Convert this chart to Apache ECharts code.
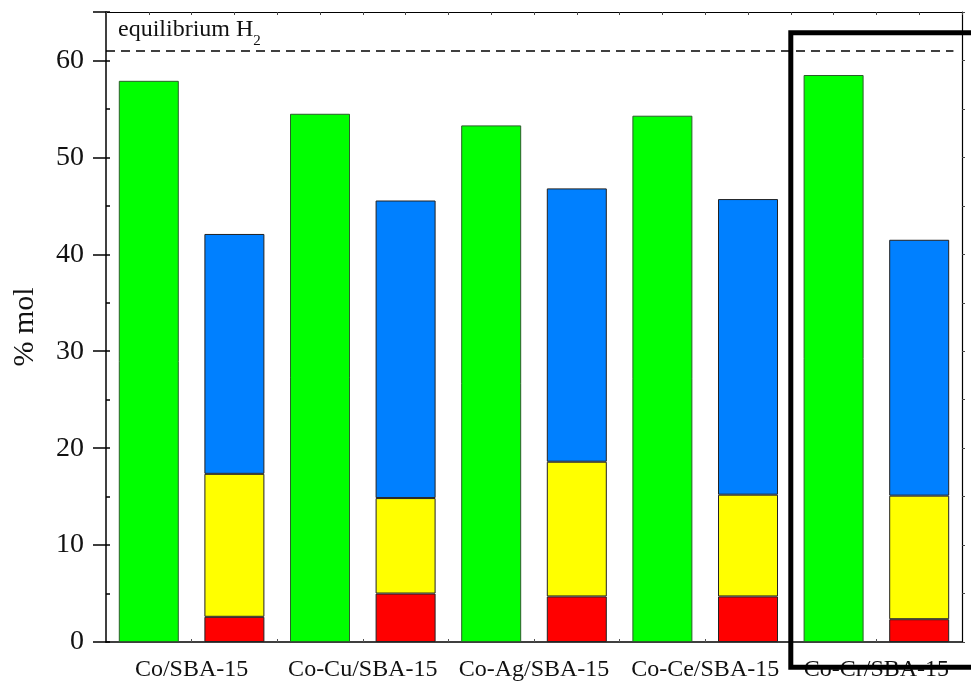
<!DOCTYPE html>
<html><head><meta charset="utf-8">
<script src="https://cdn.jsdelivr.net/npm/echarts@6/dist/echarts.min.js"></script>
<style>html,body{margin:0;padding:0;background:#fff}#c{width:971px;height:687px}</style>
</head><body><div id="c"></div>
<script>
const categories = ['Co/SBA-15','Co-Cu/SBA-15','Co-Ag/SBA-15','Co-Ce/SBA-15','Co-Cr/SBA-15'];
const h2 = [57.9, 54.5, 53.3, 54.3, 58.5];
const red = [2.6, 5.0, 4.7, 4.7, 2.35];
const yellow = [14.75, 9.85, 13.9, 10.5, 12.75];
const blue = [24.75, 30.7, 28.2, 30.5, 26.4];
const equilibriumH2 = 61;
const yTicks = [0, 10, 20, 30, 40, 50, 60];

const FONT = 'Liberation Serif';
const chart = echarts.init(document.getElementById('c'), null, {renderer: 'canvas'});

// 10 bar slots: green bar then stacked bar for each catalyst
const slots = [];
categories.forEach(c => { slots.push(c + ' H2'); slots.push(c + ' other'); });
const onGreen = arr => { const out = []; arr.forEach(v => { out.push(v); out.push('-'); }); return out; };
const onStack = arr => { const out = []; arr.forEach(v => { out.push('-'); out.push(v); }); return out; };

function labelFor(v) {
  const k = (v - 1.5) / 2;
  if (Math.abs(k - Math.round(k)) < 1e-6 && k >= 0 && k < categories.length) return categories[Math.round(k)];
  return '';
}

const barCommon = {type: 'bar', barWidth: 60, stack: 'all', xAxisIndex: 0, yAxisIndex: 0};

chart.setOption({
  animation: false,
  grid: {left: 106, right: 9, top: 12, bottom: 45},
  xAxis: [
    {type: 'category', data: slots, boundaryGap: true, position: 'bottom',
     axisLine: {show: false}, axisTick: {show: false}, axisLabel: {show: false}, splitLine: {show: false}},
    {type: 'value', min: 0.5, max: 10.5, interval: 0.5, position: 'bottom',
     axisLine: {show: true, onZero: false, lineStyle: {color: '#000', width: 1.5}},
     axisTick: {show: true, inside: true, length: 3, lineStyle: {color: '#555'}},
     splitLine: {show: false},
     axisLabel: {formatter: labelFor, color: '#111', fontFamily: FONT, fontSize: 24, margin: 16, showMinLabel: false, showMaxLabel: false}},
    {type: 'value', min: 0.5, max: 10.5, interval: 0.5, position: 'top',
     axisLine: {show: true, onZero: false, lineStyle: {color: '#000', width: 1.2}},
     axisTick: {show: true, inside: true, length: 3, lineStyle: {color: '#444'}},
     splitLine: {show: false}, axisLabel: {show: false}}
  ],
  yAxis: [
    {type: 'value', min: 0, max: 65, interval: 10, position: 'left',
     name: '% mol', nameLocation: 'middle', nameGap: 66, nameRotate: 90,
     nameTextStyle: {fontFamily: FONT, fontSize: 30, color: '#111'},
     axisLine: {show: true, lineStyle: {color: '#000', width: 1.5}},
     axisTick: {show: true, inside: false, length: 13, lineStyle: {color: '#000', width: 1.5}},
     splitLine: {show: false},
     axisLabel: {color: '#111', fontFamily: FONT, fontSize: 28, margin: 22,
                 formatter: v => yTicks.indexOf(v) >= 0 ? String(v) : ''}},
    {type: 'value', min: 0, max: 65, interval: 5, position: 'right',
     axisLine: {show: true, lineStyle: {color: '#000', width: 1.2}},
     axisTick: {show: true, inside: false, length: 3, lineStyle: {color: '#444'}},
     splitLine: {show: false}, axisLabel: {show: false}},
    {type: 'value', min: 0, max: 65, interval: 5, position: 'left',
     axisLine: {show: false},
     axisTick: {show: true, inside: true, length: 4, lineStyle: {color: '#000', width: 1.5}},
     splitLine: {show: false}, axisLabel: {show: false}}
  ],
  series: [
    Object.assign({}, barCommon, {
      name: 'H2',
      itemStyle: {color: '#00ff00', borderColor: '#2a5e2a', borderWidth: 1},
      data: onGreen(h2)
    }),
    Object.assign({}, barCommon, {
      name: 'red',
      itemStyle: {color: '#ff0000', borderColor: '#222', borderWidth: 1},
      data: onStack(red)
    }),
    Object.assign({}, barCommon, {
      name: 'yellow',
      itemStyle: {color: '#ffff00', borderColor: '#222', borderWidth: 1},
      data: onStack(yellow)
    }),
    Object.assign({}, barCommon, {
      name: 'blue',
      itemStyle: {color: '#0080ff', borderColor: '#222', borderWidth: 1},
      data: onStack(blue)
    }),
    {
      name: 'equilibrium H2', type: 'line', xAxisIndex: 1, yAxisIndex: 0,
      symbol: 'none', silent: true,
      lineStyle: {width: 0, opacity: 0},
      data: [[0.5, equilibriumH2], [10.4, equilibriumH2]],
      markLine: {
        silent: true, symbol: 'none',
        lineStyle: {color: '#000', type: [9, 6], width: 1.5, opacity: 1},
        label: {show: true, position: 'insideStartTop', distance: [12, 9],
                formatter: '{a|equilibrium H}{s|2}',
                rich: {a: {fontFamily: FONT, fontSize: 24, color: '#111', verticalAlign: 'bottom'},
                       s: {fontFamily: FONT, fontSize: 15, color: '#111', verticalAlign: 'bottom', padding: [0, 0, -7, 0]}}},
        data: [[{coord: [0.5, equilibriumH2]}, {coord: [10.4, equilibriumH2]}]]
      }
    }
  ]
});

// Highlight frame around the last catalyst pair
const pTop = chart.convertToPixel({xAxisIndex: 1, yAxisIndex: 0}, [8.5, 62.85]);
const pBot = chart.convertToPixel({xAxisIndex: 1, yAxisIndex: 0}, [8.5, -2.6]);
chart.setOption({
  graphic: [{
    type: 'rect', z: 100, silent: true,
    shape: {x: pTop[0], y: pTop[1], width: 400, height: pBot[1] - pTop[1]},
    style: {fill: 'none', stroke: '#000', lineWidth: 5}
  }]
});
</script></body></html>
